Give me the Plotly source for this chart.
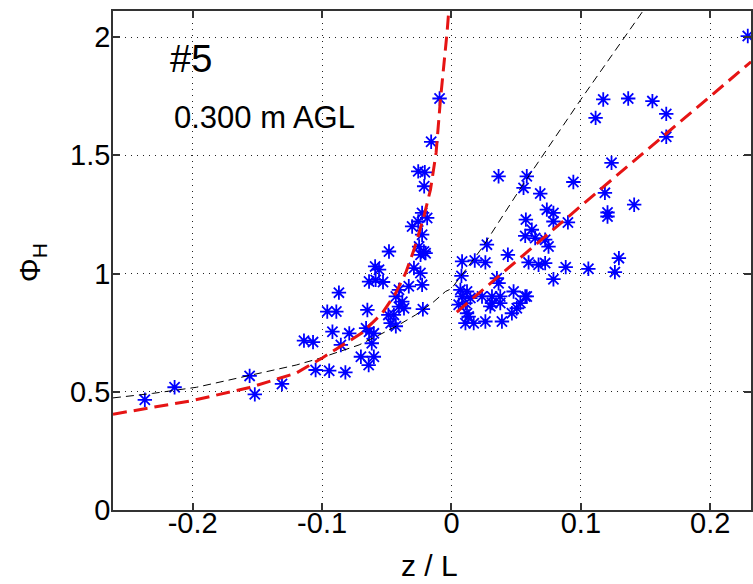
import plotly.graph_objects as go

# ---- data ----
star_x = [-0.237, -0.214, -0.156, -0.152, -0.131, -0.114, -0.107, -0.105, -0.0945, -0.082,
          -0.096, -0.089, -0.092, -0.087, -0.0855, -0.079, -0.070, -0.060, -0.064, -0.0616,
          -0.0637, -0.060, -0.066, -0.065, -0.0637, -0.0586, -0.0529, -0.059, -0.056, -0.0488,
          -0.0445, -0.047, -0.043, -0.043, -0.038, -0.0406, -0.0367, -0.0406, -0.033, -0.0227,
          -0.0221, -0.029, -0.024, -0.0483, -0.025, -0.0213, -0.0239, -0.020, -0.0304, -0.0257,
          -0.0227, -0.0227, -0.0188, -0.0211, -0.0257, -0.0206, -0.0157, -0.0092,
          0.0082, 0.018, 0.0262, 0.0077, 0.0351, 0.0364, 0.0274, 0.0364, 0.0436, 0.048,
          0.0582, 0.0557, 0.0686, 0.0942, 0.0737, 0.0788, 0.0788, 0.0575, 0.090, 0.0621,
          0.057, 0.0647, 0.0724, 0.075, 0.0596, 0.0673, 0.0724, 0.0883, 0.1058, 0.1263,
          0.1294, 0.0788, 0.0069, 0.012, 0.0082, 0.0146, 0.0056, 0.0108, 0.0236, 0.0313,
          0.0377, 0.0313, 0.0377, 0.030, 0.057, 0.0532, 0.0505, 0.0467, 0.012, 0.0133,
          0.0108, 0.0172, 0.0262, 0.039, 0.1186, 0.1206, 0.1206, 0.1412, 0.1237, 0.1114,
          0.1173, 0.1366, 0.1553, 0.166, 0.166, 0.229, 0.0582]
star_y = [0.466, 0.519, 0.567, 0.489, 0.533, 0.716, 0.710, 0.592, 0.589, 0.582,
          0.839, 0.839, 0.754, 0.919, 0.698, 0.747, 0.648, 0.648, 0.613, 0.705,
          0.754, 0.747, 0.769, 0.846, 0.966, 0.973, 0.964, 1.030, 1.016, 0.825,
          0.825, 0.790, 0.777, 0.903, 0.881, 0.860, 0.853, 0.931, 0.946, 0.952,
          0.849, 1.023, 1.002, 1.093, 1.114, 1.093, 1.079, 1.086, 1.199, 1.220,
          1.164, 1.256, 1.235, 1.369, 1.432, 1.428, 1.557, 1.740,
          1.051, 1.055, 1.047, 0.990, 0.980, 0.959, 1.122, 1.411, 1.079, 0.924,
          1.411, 1.362, 1.338, 1.387, 1.270, 1.256, 1.220, 1.228, 1.216, 1.185,
          1.159, 1.150, 1.143, 1.114, 1.047, 1.037, 1.044, 1.027, 1.020, 1.006,
          1.065, 0.976, 0.931, 0.924, 0.903, 0.896, 0.868, 0.875, 0.903, 0.903,
          0.903, 0.875, 0.875, 0.861, 0.903, 0.875, 0.853, 0.832, 0.832, 0.818,
          0.790, 0.790, 0.797, 0.797, 1.341, 1.258, 1.241, 1.291, 1.468, 1.658,
          1.736, 1.740, 1.729, 1.675, 1.578, 2.004, 0.903]

red_unstable_x = [-0.2616, -0.256, -0.2, -0.156, -0.12, -0.0999, -0.0868, -0.0691, -0.0535,
                  -0.0431, -0.0354, -0.029, -0.0213, -0.0162, -0.0119, -0.0085, -0.0034, -0.0021]
red_unstable_y = [0.405, 0.410, 0.463, 0.518, 0.579, 0.643, 0.689, 0.749, 0.832,
                  0.917, 1.002, 1.100, 1.242, 1.355, 1.510, 1.736, 2.02, 2.11]

red_stable_x = [0.0041, 0.116, 0.2315]
red_stable_y = [0.837, 1.360, 1.895]

black_x = [-0.2616, -0.231, -0.197, -0.1716, -0.1408, -0.120, -0.1022, -0.0714, -0.056,
           -0.0406, -0.0277, -0.0149, -0.0046, 0.0, 0.0236, 0.0544, 0.1, 0.1466, 0.148]
black_y = [0.474, 0.493, 0.519, 0.550, 0.585, 0.613, 0.641, 0.698, 0.740,
           0.783, 0.825, 0.875, 0.924, 0.936, 1.108, 1.369, 1.736, 2.098, 2.11]

x_ticks = [-0.2, -0.1, 0, 0.1, 0.2]
x_tick_text = ["-0.2", "-0.1", "0", "0.1", "0.2"]
y_ticks = [0, 0.5, 1, 1.5, 2]
y_tick_text = ["0", "0.5", "1", "1.5", "2"]

FONT = "Liberation Sans, Arial, sans-serif"
W, H = 753, 584
ML, MR, MT, MB = 113, 0, 11, 74
PW, PH = W - ML - MR, H - MT - MB


def px(x):
    return (x - ML) / PW


def py(y):
    return (H - MB - y) / PH


fig = go.Figure()
fig.add_trace(go.Scatter(
    x=star_x, y=star_y, mode="markers",
    marker=dict(symbol="asterisk-open", size=12, color="#0000ff",
                line=dict(width=1.8, color="#0000ff")),
    showlegend=False))
fig.add_trace(go.Scatter(
    x=black_x, y=black_y, mode="lines",
    line=dict(color="black", width=1, dash="8px,5px"), showlegend=False))
fig.add_trace(go.Scatter(
    x=red_unstable_x, y=red_unstable_y, mode="lines",
    line=dict(color="#e61414", width=3, dash="14px,7px"), showlegend=False))
fig.add_trace(go.Scatter(
    x=red_stable_x, y=red_stable_y, mode="lines",
    line=dict(color="#e61414", width=3, dash="14px,7px"), showlegend=False))

axis_common = dict(
    showline=True, linecolor="#333333", linewidth=1.5, mirror="ticks",
    ticks="inside", ticklen=7, tickcolor="#333333", tickwidth=1.5,
    showgrid=True, gridcolor="#222222", gridwidth=1, griddash="1px,5px",
    zeroline=False, tickfont=dict(family=FONT, size=29, color="black"),
)

fig.update_xaxes(range=[-0.2616, 0.2315], tickmode="array", tickvals=x_ticks,
                 ticktext=x_tick_text, ticklabelstandoff=-14, **axis_common)
fig.update_yaxes(range=[0, 2.11], tickmode="array", tickvals=y_ticks,
                 ticktext=y_tick_text, ticklabelstandoff=-5, **axis_common)

annotations = [
    dict(text="#5", x=px(191), y=py(59), yanchor="middle",
         font=dict(family=FONT, size=38, color="black")),
    dict(text="0.300 m AGL", x=px(265), y=py(117), yanchor="middle",
         font=dict(family=FONT, size=31, color="black")),
    dict(text="z / L", x=px(430), y=py(584), yanchor="bottom",
         font=dict(family=FONT, size=30, color="black")),
    dict(text="Φ<sub>H</sub>", x=px(31), y=py(263), textangle=-90, yanchor="middle",
         font=dict(family=FONT, size=30, color="black")),
]
for a in annotations:
    fig.add_annotation(xref="paper", yref="paper", showarrow=False,
                       xanchor="center", **a)

fig.update_layout(
    width=W, height=H, margin=dict(l=ML, r=MR, t=MT, b=MB),
    paper_bgcolor="white", plot_bgcolor="white",
)

fig.write_html("out.html")
